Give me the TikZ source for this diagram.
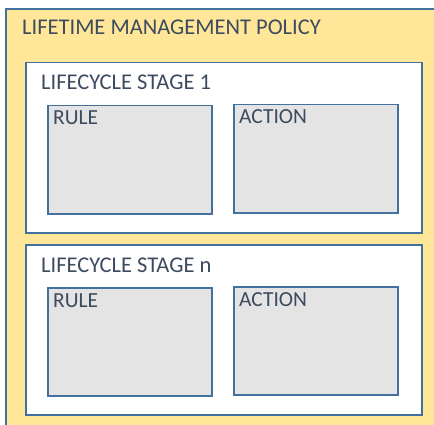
\documentclass[tikz,border=0pt]{standalone}
\usepackage{fontspec}
\setmainfont{Carlito}
\usetikzlibrary{positioning}
\definecolor{policyfill}{HTML}{FFE699}
\definecolor{edgeblue}{HTML}{41719C}
\definecolor{cellgray}{HTML}{E4E4E4}
\definecolor{textslate}{HTML}{3D4B5F}

\begin{document}
\begin{tikzpicture}[x=1pt,y=-1pt,
  frame/.style={draw=edgeblue,line width=1.5pt,inner sep=0pt,anchor=north west},
  cell/.style={frame,fill=cellgray,minimum width=164pt,minimum height=108pt},
  caption/.style={anchor=base west,inner sep=0pt,text=textslate}]
\fill[white] (0,0) rectangle (434,425);
\clip (0,0) rectangle (434,425);
\node[fill=policyfill,inner sep=0pt,anchor=north west,minimum width=440pt,minimum height=430pt] (policy) at (6,9) {};
\draw[edgeblue,line width=1.5pt] (policy.south west) |- (policy.north east);
\node[caption,font=\fontsize{22.5}{26}\selectfont] (policytitle) at (22,35) {LIFETIME MANAGEMENT POLICY};
\foreach \s/\t/\y in {1/1/62,2/n/244}{
  \node[frame,fill=white,minimum width=396pt,minimum height=170pt] (stage\s) at (25,\y) {};
  \node[caption,font=\fontsize{22.5}{26}\selectfont] (stagetitle\s) at (41,\y+28) {LIFECYCLE STAGE \t};
  \node[cell] (rule\s) at (47,\y+43) {};
  \node[cell] (action\s) at (233,\y+42) {};
  \node[caption,font=\fontsize{21.5}{25}\selectfont] (ruletext\s) at ([xshift=6pt,yshift=-20pt]rule\s.north west) {RULE};
  \node[caption,font=\fontsize{21.5}{25}\selectfont] (actiontext\s) at ([xshift=6pt,yshift=-20pt]action\s.north west) {ACTION};
}
\end{tikzpicture}
\end{document}
